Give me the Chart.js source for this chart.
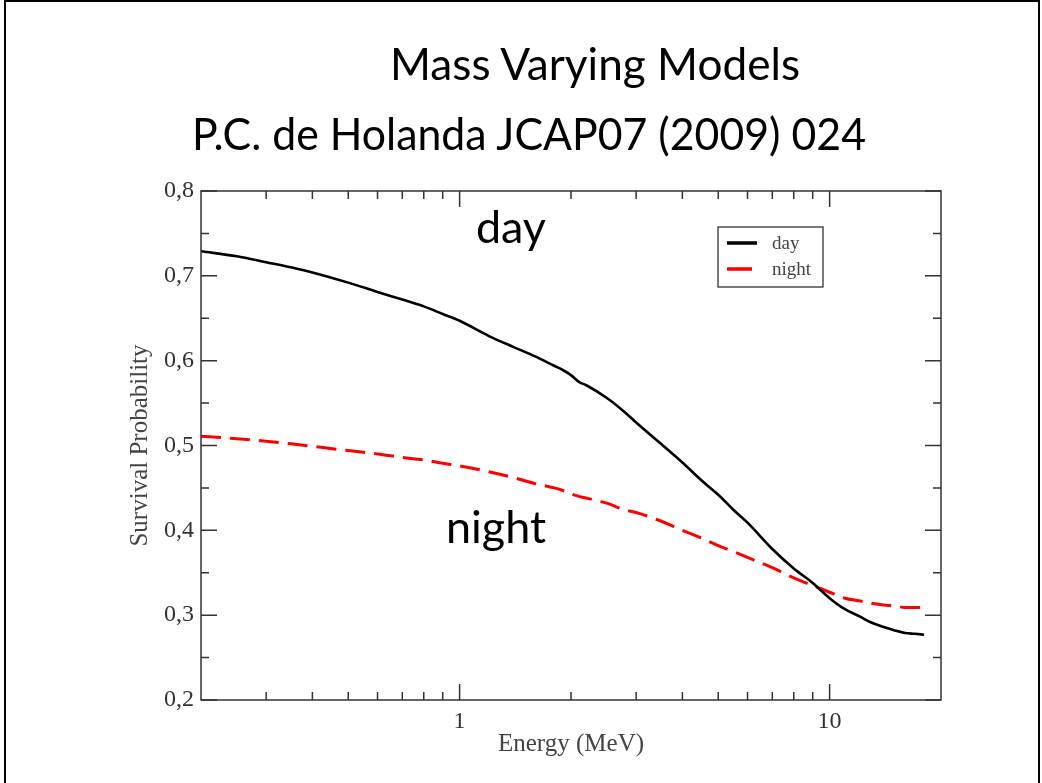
<!DOCTYPE html>
<html>
<head>
<meta charset="utf-8">
<script src="https://cdn.jsdelivr.net/npm/chart.js@4.4.0/dist/chart.umd.min.js"></script>
<style>
html,body{margin:0;padding:0;background:#fff;}
#slide{position:relative;width:1042px;height:783px;overflow:hidden;background:#fff;}
#frame{position:absolute;left:4px;top:0px;width:1036px;height:820px;border:2px solid #000;box-sizing:border-box;}
#c{position:absolute;left:0;top:0;}
#txt{position:absolute;left:0;top:0;pointer-events:none;}
#txt text{font-family:Lato,'Open Sans',sans-serif;fill:#000;}
</style>
</head>
<body>
<div id="slide">
  <div id="frame"></div>
  <canvas id="c" width="1042" height="783"></canvas>
  <svg id="txt" width="1042" height="783">
    <text x="390" y="80" font-size="44" textLength="410" lengthAdjust="spacingAndGlyphs">Mass Varying Models</text>
    <text x="192" y="150" font-size="44" textLength="674" lengthAdjust="spacingAndGlyphs">P.C. de Holanda JCAP07 (2009) 024</text>
    <text x="476" y="243" font-size="44" textLength="70" lengthAdjust="spacingAndGlyphs">day</text>
    <text x="446" y="543" font-size="44" textLength="100" lengthAdjust="spacingAndGlyphs">night</text>
  </svg>
</div>
<script>
// ---- data ----
const energy = [0.2,0.25,0.3,0.35,0.4,0.5,0.6,0.7,0.8,0.9,1,1.2,1.4,1.6,1.8,1.9,2,2.1,2.2,2.5,2.8,3,3.5,4,4.5,5,5.5,6,7,8,9,10,11,12,13,14,15,16,17,18];
const daySP = [0.729,0.723,0.716,0.710,0.704,0.692,0.681,0.672,0.664,0.655,0.647,0.629,0.616,0.605,0.594,0.589,0.583,0.575,0.571,0.556,0.539,0.527,0.502,0.480,0.459,0.442,0.424,0.409,0.378,0.355,0.338,0.320,0.307,0.299,0.291,0.286,0.282,0.279,0.278,0.277];
const nightSP = [0.511,0.508,0.505,0.502,0.499,0.494,0.490,0.486,0.483,0.479,0.476,0.469,0.462,0.455,0.450,0.447,0.443,0.440,0.438,0.432,0.424,0.421,0.411,0.400,0.391,0.382,0.375,0.368,0.356,0.344,0.335,0.327,0.320,0.317,0.314,0.312,0.311,0.309,0.309,0.309];
const seriesLabels = ['day','night'];
const xMajorTicks = [1,10];
const xMinorTicks = [0.3,0.4,0.5,0.6,0.7,0.8,0.9,2,3,4,5,6,7,8,9];
const yMajorTicks = [0.2,0.3,0.4,0.5,0.6,0.7,0.8];
const yMinorTicks = [0.25,0.35,0.45,0.55,0.65,0.75];
const xTitle = 'Energy (MeV)';
const yTitle = 'Survival Probability';

const SERIF = "'Liberation Serif','Times New Roman',serif";

const framePlugin = {
  id:'frameTicks',
  afterDatasetsDraw(chart){
    const {ctx, chartArea:a, scales:{x,y}} = chart;
    ctx.save();
    ctx.strokeStyle = '#333';
    ctx.lineWidth = 1.5;
    ctx.setLineDash([]);
    ctx.strokeRect(a.left, a.top, a.right-a.left, a.bottom-a.top);
    ctx.beginPath();
    const xt = (vals,len)=>vals.forEach(v=>{const p=x.getPixelForValue(v);
      ctx.moveTo(p,a.bottom); ctx.lineTo(p,a.bottom-len);
      ctx.moveTo(p,a.top); ctx.lineTo(p,a.top+len);});
    const yt = (vals,len)=>vals.forEach(v=>{const p=y.getPixelForValue(v);
      ctx.moveTo(a.left,p); ctx.lineTo(a.left+len,p);
      ctx.moveTo(a.right,p); ctx.lineTo(a.right-len,p);});
    xt(xMajorTicks,16); xt(xMinorTicks,8);
    yt(yMajorTicks,16); yt(yMinorTicks,8);
    ctx.stroke();
    ctx.restore();
  }
};

const legendPlugin = {
  id:'boxLegend',
  afterDatasetsDraw(chart){
    const {ctx, chartArea:a} = chart;
    const bx = a.right-223, by = a.top+36, bw = 105, bh = 60;
    ctx.save();
    ctx.fillStyle = '#fff';
    ctx.fillRect(bx,by,bw,bh);
    ctx.strokeStyle = '#333';
    ctx.lineWidth = 1.3;
    ctx.strokeRect(bx,by,bw,bh);
    chart.data.datasets.forEach((ds,i)=>{
      const ly = by+16+i*26;
      ctx.beginPath();
      ctx.setLineDash([]);
      ctx.strokeStyle = ds.borderColor;
      ctx.lineWidth = 3.5;
      ctx.moveTo(bx+9,ly); ctx.lineTo(bx+(i===0?39:34),ly);
      ctx.stroke();
      ctx.fillStyle = '#444';
      ctx.font = '19px '+SERIF;
      ctx.textBaseline = 'alphabetic';
      ctx.textAlign = 'left';
      ctx.fillText(ds.label, bx+54, ly+5.5);
    });
    ctx.restore();
  }
};

new Chart(document.getElementById('c'), {
  type:'line',
  data:{
    datasets:[
      {label:seriesLabels[0], data:energy.map((e,i)=>({x:e,y:daySP[i]})), borderColor:'#000000', borderWidth:2.6, pointRadius:0, fill:false, cubicInterpolationMode:'monotone'},
      {label:seriesLabels[1], data:energy.map((e,i)=>({x:e,y:nightSP[i]})), borderColor:'#ff0000', borderWidth:3, borderDash:[20,9], pointRadius:0, fill:false, cubicInterpolationMode:'monotone'}
    ]
  },
  options:{
    responsive:false, animation:false, devicePixelRatio:1,
    layout:{padding:{left:110, top:191, right:101, bottom:0}},
    plugins:{legend:{display:false}, title:{display:false}, tooltip:{enabled:false}},
    scales:{
      x:{
        type:'logarithmic', min:0.2, max:20,
        grid:{display:false, drawTicks:false}, border:{display:false},
        afterBuildTicks:(s)=>{ s.ticks = xMajorTicks.map(v=>({value:v})); },
        ticks:{autoSkip:false, maxRotation:0, padding:7, color:'#333', font:{family:SERIF, size:24}, callback:(v)=>String(v)},
        title:{display:true, text:xTitle, color:'#444', font:{family:SERIF, size:25}, padding:{top:0, bottom:24}},
        afterFit:(s)=>{ s.height = 83; }
      },
      y:{
        type:'linear', min:0.2, max:0.8,
        grid:{display:false, drawTicks:false}, border:{display:false},
        afterBuildTicks:(s)=>{ s.ticks = yMajorTicks.map(v=>({value:v})); },
        ticks:{autoSkip:false, padding:7, color:'#333', font:{family:SERIF, size:24}, callback:(v)=>Number(v).toFixed(1).replace('.',',')},
        title:{display:true, text:yTitle, color:'#444', font:{family:SERIF, size:25}, padding:{top:15, bottom:0}},
        afterFit:(s)=>{ s.width = 91; }
      }
    }
  },
  plugins:[framePlugin, legendPlugin]
});
</script>
</body>
</html>
